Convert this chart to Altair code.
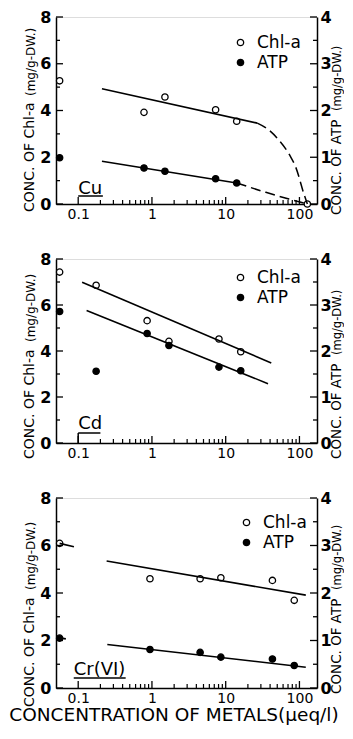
import altair as alt
import pandas as pd

FONT = "DejaVu Sans"
W = 261
HEIGHTS = [187, 184, 190]

# ---------------- data ----------------
series_names = ["Chl-a", "ATP"]
metals = ["Cu", "Cd", "Cr(VI)"]

# Cu
cu_chl_x = [0.056, 0.78, 1.5, 7.3, 14.1, 128]
cu_chl_y = [5.27, 3.92, 4.58, 4.03, 3.54, 0.0]
cu_atp_x = [0.056, 0.78, 1.5, 7.3, 14.1]
cu_atp_y = [0.99, 0.77, 0.70, 0.54, 0.45]
cu_chl_solid_x = [0.21, 26.8]
cu_chl_solid_y = [4.93, 3.46]
cu_chl_dash_x = [26.8, 38, 53, 75, 89, 115, 128]
cu_chl_dash_y = [3.46, 3.18, 2.72, 2.05, 1.58, 0.43, 0.0]
cu_atp_solid_x = [0.21, 14.1]
cu_atp_solid_y = [0.915, 0.45]
cu_atp_dash_x = [14.1, 35, 72, 128]
cu_atp_dash_y = [0.45, 0.25, 0.105, 0.0]

# Cd
cd_chl_x = [0.056, 0.175, 0.86, 1.7, 8.1, 16]
cd_chl_y = [7.43, 6.86, 5.32, 4.42, 4.52, 3.97]
cd_atp_x = [0.056, 0.175, 0.86, 1.7, 8.1, 16]
cd_atp_y = [2.86, 1.56, 2.38, 2.12, 1.65, 1.57]
cd_chl_solid_x = [0.113, 41.5]
cd_chl_solid_y = [6.99, 3.48]
cd_atp_solid_x = [0.13, 37.5]
cd_atp_solid_y = [2.88, 1.29]

# Cr(VI)
cr_chl_x = [0.056, 0.94, 4.5, 8.6, 43, 85]
cr_chl_y = [6.09, 4.60, 4.60, 4.64, 4.53, 3.69]
cr_atp_x = [0.056, 0.94, 4.5, 8.6, 43, 85]
cr_atp_y = [1.05, 0.81, 0.75, 0.65, 0.61, 0.475]
cr_chl_solid_x = [0.243, 122]
cr_chl_solid_y = [5.35, 3.91]
cr_chl_ctrl_x = [0.056, 0.0875]
cr_chl_ctrl_y = [6.09, 5.95]
cr_atp_solid_x = [0.248, 122]
cr_atp_solid_y = [0.915, 0.437]
cr_atp_ctrl_x = [0.056, 0.068]
cr_atp_ctrl_y = [1.055, 1.035]

x_domain = [0.05, 173]
x_major = [0.1, 1, 10, 100]
x_minor = [m * d for d in [0.1, 1, 10] for m in range(2, 10)]
left_major = [0, 2, 4, 6, 8]
left_minor = [1, 3, 5, 7]
right_major = [0, 1, 2, 3, 4]
right_minor = [0.5, 1.5, 2.5, 3.5]

left_title_big = "CONC. OF Chl-a"
left_title_small = "(mg/g-DW.)"
right_title_big = "CONC. OF ATP"
right_title_small = "(mg/g-DW.)"
x_title = "CONCENTRATION OF METALS(\u00b5eq/l)"

# metal label underline extents (x data units) and vertical offsets from the bottom
label_x0 = [0.1, 0.1, 0.087]
label_x1 = [0.216, 0.2, 0.44]
label_text_dy = [10, 14, 13]
label_line_dy = [8, 10, 10]
label_step = [False, True, False]

xs = alt.Scale(type="log", domain=x_domain, nice=False)
ys_l = alt.Scale(domain=[0, 8], nice=False)
ys_r = alt.Scale(domain=[0, 4], nice=False)
fill_scale = alt.Scale(domain=series_names, range=["white", "black"])


def line_df(segs):
    rows = []
    for i, (xx, yy) in enumerate(segs):
        for a, b in zip(xx, yy):
            rows.append({"x": a, "y": b, "seg": i})
    return pd.DataFrame(rows)


def txt(s, size, x, y, angle=270, align="left", weight="normal"):
    return alt.Chart(pd.DataFrame({"t": [s]})).mark_text(
        angle=angle, align=align, baseline="middle", fontSize=size, font=FONT,
        color="black", fontWeight=weight).encode(text="t:N", x=alt.value(x), y=alt.value(y))


def panel(idx, chl_x, chl_y, atp_x, atp_y, chl_solid, chl_dash, atp_solid, atp_dash,
          ltitle_off, rtitle_off, legend_pos, bottom_title=False):
    H = HEIGHTS[idx]
    chl_df = pd.DataFrame({"x": chl_x, "y": chl_y, "series": "Chl-a"})
    atp_df = pd.DataFrame({"x": atp_x, "y": atp_y, "series": "ATP"})
    leg = alt.Legend(orient="none", legendX=legend_pos[0], legendY=legend_pos[1], title=None,
                     labelFontSize=17, labelFont=FONT, labelColor="black", symbolType="circle",
                     symbolSize=40, symbolStrokeColor="black", symbolStrokeWidth=1.3,
                     rowPadding=2, labelOffset=8, padding=0)

    chl_pts = alt.Chart(chl_df).mark_point(shape="circle", filled=True, stroke="black",
                                           strokeWidth=1.3, size=40, opacity=1).encode(
        x=alt.X("x:Q", scale=xs, axis=alt.Axis(values=x_major, format="~g", ticks=False,
                                               labelFontSize=14, labelFont=FONT, labelColor="black",
                                               labelPadding=3, domainColor="black", domainWidth=1.5,
                                               grid=False, title=None, labelFlush=False)),
        y=alt.Y("y:Q", scale=ys_l, axis=alt.Axis(values=left_major, ticks=False, orient="left",
                                                 labelFontSize=16, labelFont=FONT, labelColor="black",
                                                 labelPadding=5, domainColor="black", domainWidth=1.5,
                                                 grid=False, title=None, labelFontWeight="bold")),
        fill=alt.Fill("series:N", scale=fill_scale, legend=leg),
    )
    layers_l = [chl_pts]
    if chl_solid:
        layers_l.append(alt.Chart(line_df(chl_solid)).mark_line(color="black", strokeWidth=1.6).encode(
            x=alt.X("x:Q", scale=xs), y=alt.Y("y:Q", scale=ys_l), detail="seg:N"))
    if chl_dash:
        layers_l.append(alt.Chart(line_df(chl_dash)).mark_line(color="black", strokeWidth=1.5,
                                                               strokeDash=[10, 5], interpolate="monotone").encode(
            x=alt.X("x:Q", scale=xs), y=alt.Y("y:Q", scale=ys_l), detail="seg:N"))
    # inner ticks left
    layers_l.append(alt.Chart(pd.DataFrame({"v": left_major})).mark_rule(color="black", strokeWidth=1.3).encode(
        y=alt.Y("v:Q", scale=ys_l), x=alt.value(0), x2=alt.value(7)))
    layers_l.append(alt.Chart(pd.DataFrame({"v": left_minor})).mark_rule(color="black", strokeWidth=1.3).encode(
        y=alt.Y("v:Q", scale=ys_l), x=alt.value(0), x2=alt.value(4)))
    # inner ticks bottom
    layers_l.append(alt.Chart(pd.DataFrame({"v": x_major})).mark_rule(color="black", strokeWidth=1.3).encode(
        x=alt.X("v:Q", scale=xs), y=alt.value(H), y2=alt.value(H - 7)))
    layers_l.append(alt.Chart(pd.DataFrame({"v": x_minor})).mark_rule(color="black", strokeWidth=1.2).encode(
        x=alt.X("v:Q", scale=xs), y=alt.value(H), y2=alt.value(H - 4)))
    # metal label with underline
    layers_l.append(alt.Chart(pd.DataFrame({"t": [metals[idx]], "x": [label_x0[idx]]})).mark_text(
        align="left", baseline="alphabetic", fontSize=18, font=FONT, color="black").encode(
        x=alt.X("x:Q", scale=xs), y=alt.value(H - label_text_dy[idx]), text="t:N"))
    layers_l.append(alt.Chart(pd.DataFrame({"x": [label_x0[idx]], "x2": [label_x1[idx]]})).mark_rule(
        color="black", strokeWidth=1.5).encode(
        x=alt.X("x:Q", scale=xs), x2="x2:Q", y=alt.value(H - label_line_dy[idx])))
    if label_step[idx]:
        layers_l.append(alt.Chart(pd.DataFrame({"x": [label_x0[idx]]})).mark_rule(
            color="black", strokeWidth=1.5).encode(
            x=alt.X("x:Q", scale=xs), y=alt.value(H), y2=alt.value(H - label_line_dy[idx])))
    # left titles
    layers_l.append(txt(left_title_big, 14, -26, ltitle_off[0]))
    layers_l.append(txt(left_title_small, 12, -25, ltitle_off[1]))
    if bottom_title:
        layers_l.append(txt(x_title, 18.5, 118, H + 27, angle=0, align="center"))
    left = alt.layer(*layers_l)

    atp_pts = alt.Chart(atp_df).mark_point(shape="circle", filled=True, stroke="black",
                                           strokeWidth=1.3, size=40, opacity=1).encode(
        x=alt.X("x:Q", scale=xs),
        y=alt.Y("y:Q", scale=ys_r, axis=alt.Axis(values=right_major, ticks=False, orient="right",
                                                 labelFontSize=16, labelFont=FONT, labelColor="black",
                                                 labelPadding=3, domainColor="black", domainWidth=1.5,
                                                 grid=False, title=None, labelFontWeight="bold")),
        fill=alt.Fill("series:N", scale=fill_scale, legend=leg),
    )
    layers_r = [atp_pts]
    if atp_solid:
        layers_r.append(alt.Chart(line_df(atp_solid)).mark_line(color="black", strokeWidth=1.6).encode(
            x=alt.X("x:Q", scale=xs), y=alt.Y("y:Q", scale=ys_r), detail="seg:N"))
    if atp_dash:
        layers_r.append(alt.Chart(line_df(atp_dash)).mark_line(color="black", strokeWidth=1.5,
                                                               strokeDash=[10, 5], interpolate="monotone").encode(
            x=alt.X("x:Q", scale=xs), y=alt.Y("y:Q", scale=ys_r), detail="seg:N"))
    layers_r.append(alt.Chart(pd.DataFrame({"v": right_major})).mark_rule(color="black", strokeWidth=1.3).encode(
        y=alt.Y("v:Q", scale=ys_r), x=alt.value(W - 7), x2=alt.value(W)))
    layers_r.append(alt.Chart(pd.DataFrame({"v": right_minor})).mark_rule(color="black", strokeWidth=1.3).encode(
        y=alt.Y("v:Q", scale=ys_r), x=alt.value(W - 4), x2=alt.value(W)))
    layers_r.append(txt(right_title_big, 13.5, W + 20, rtitle_off[0]))
    layers_r.append(txt(right_title_small, 11.5, W + 21, rtitle_off[1]))
    right = alt.layer(*layers_r)

    return alt.layer(left, right).resolve_scale(y="independent").properties(width=W, height=H)


p1 = panel(0, cu_chl_x, cu_chl_y, cu_atp_x, cu_atp_y,
           [(cu_chl_solid_x, cu_chl_solid_y)], [(cu_chl_dash_x, cu_chl_dash_y)],
           [(cu_atp_solid_x, cu_atp_solid_y)], [(cu_atp_dash_x, cu_atp_dash_y)],
           (195, 79), (198, 94), (176, 17))
p2 = panel(1, cd_chl_x, cd_chl_y, cd_atp_x, cd_atp_y,
           [(cd_chl_solid_x, cd_chl_solid_y)], [],
           [(cd_atp_solid_x, cd_atp_solid_y)], [],
           (200, 83), (200, 96), (176, 10))
p3 = panel(2, cr_chl_x, cr_chl_y, cr_atp_x, cr_atp_y,
           [(cr_chl_solid_x, cr_chl_solid_y), (cr_chl_ctrl_x, cr_chl_ctrl_y)], [],
           [(cr_atp_solid_x, cr_atp_solid_y), (cr_atp_ctrl_x, cr_atp_ctrl_y)], [],
           (209, 92), (196, 92), (182, 16), bottom_title=True)

top = alt.vconcat(p1, p2, spacing=28).resolve_scale(fill="independent").resolve_legend(fill="independent")
chart = alt.vconcat(top, p3, spacing=28).resolve_scale(fill="independent").resolve_legend(
    fill="independent").properties(
    padding={"left": 0, "top": 0, "right": 0, "bottom": 0}
).configure_view(stroke="black", strokeWidth=1.5).configure(background="white")

chart.save("out.html", embed_options={"renderer": "svg", "actions": False})
